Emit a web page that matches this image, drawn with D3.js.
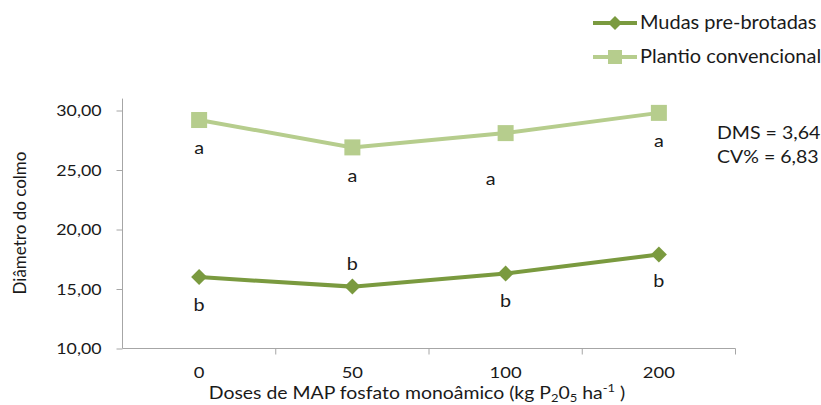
<!DOCTYPE html>
<html><head><meta charset="utf-8">
<script src="https://cdn.jsdelivr.net/npm/d3@7"></script>
<style>body{margin:0;background:#fff;} text{font-family:Lato,"Open Sans",sans-serif;fill:#1a1a1a;}</style>
</head><body><svg id="c" width="821" height="405"></svg>
<script>
const categories = ["0","50","100","200"];
const mudas = [16.0, 15.2, 16.3, 17.9];
const plantio = [29.2, 26.9, 28.1, 29.8];
const mudasLetters = ["b","b","b","b"];
const plantioLetters = ["a","a","a","a"];
const yTicks = [10,15,20,25,30];
const seriesNames = ["Mudas pre-brotadas","Plantio convencional"];
const stats = ["DMS = 3,64","CV% = 6,83"];

const svg = d3.select("#c");
const cDark = "#7a9a3f", cLight = "#b6cd8d", axisC = "#a6a6a6";
const x = d3.scaleBand().domain(categories).range([122.5, 735.5]);
const y = d3.scaleLinear().domain([10, 31]).range([348.5, 98.6]);
const cx = d => x(d) + x.bandwidth()/2;
function stretch(sel, k){
  sel.each(function(){ const t=d3.select(this); const px=+t.attr("x")||0;
    t.attr("transform",`translate(${px*(1-k)},0) scale(${k},1)`); });
}

// y axis
const ya = svg.append("g").attr("transform","translate(122.5,0)")
  .call(d3.axisLeft(y).tickValues(yTicks).tickSize(6).tickSizeOuter(0).tickPadding(15)
     .tickFormat(d => d3.format(".2f")(d).replace(".",",")));
ya.select(".domain").attr("stroke",axisC).attr("d","M0,"+y(10)+"V"+y(31));
ya.selectAll(".tick line").attr("stroke",axisC).attr("x1",-6).attr("x2",0);
ya.selectAll(".tick text").style("font-size","16px").attr("fill","#1a1a1a").call(stretch,1.11);

// x axis
const xa = svg.append("g").attr("transform","translate(0,348.5)")
  .call(d3.axisBottom(x).tickSize(0).tickPadding(18));
xa.select(".domain").attr("stroke",axisC).attr("d","M122.5,0H735.5");
xa.selectAll(".tick text").style("font-size","16px").attr("fill","#1a1a1a").call(stretch,1.15);
const bounds = categories.map(c => x(c)).concat([x(categories[categories.length-1]) + x.bandwidth()]);
xa.selectAll(".sep").data(bounds.slice(1)).join("line").attr("class","sep")
  .attr("x1",d=>d).attr("x2",d=>d).attr("y1",0).attr("y2",6).attr("stroke",axisC);

// titles
const xt = svg.append("text").attr("x",417).attr("y",399).attr("text-anchor","middle").style("font-size","18px");
xt.append("tspan").text("Doses de MAP fosfato monoâmico (kg P");
xt.append("tspan").attr("dy",3).style("font-size","12px").text("2");
xt.append("tspan").attr("dy",-3).text("0");
xt.append("tspan").attr("dy",3).style("font-size","12px").text("5");
xt.append("tspan").attr("dy",-3).text(" ha");
xt.append("tspan").attr("dy",-7).style("font-size","12px").text("-1");
xt.append("tspan").attr("dy",7).text(" )");
xt.call(stretch,1.08);

svg.append("text").attr("transform","translate(26,223) rotate(-90)").attr("text-anchor","middle")
  .style("font-size","17px").text("Diâmetro do colmo");

// lines
const line = d3.line().x((d,i)=>cx(categories[i])).y(d=>y(d));
svg.append("path").datum(plantio).attr("d",line).attr("fill","none").attr("stroke",cLight).attr("stroke-width",4);
svg.append("path").datum(mudas).attr("d",line).attr("fill","none").attr("stroke",cDark).attr("stroke-width",4);

svg.selectAll(".sq").data(plantio).join("rect").attr("class","sq")
  .attr("x",(d,i)=>cx(categories[i])-8).attr("y",d=>y(d)-8).attr("width",16).attr("height",16).attr("fill",cLight);
const diamond = (px,py,r) => `M${px},${py-r}L${px+r},${py}L${px},${py+r}L${px-r},${py}Z`;
svg.selectAll(".dm").data(mudas).join("path").attr("class","dm")
  .attr("d",(d,i)=>diamond(cx(categories[i]),y(d),8)).attr("fill",cDark);

// letters (offsets in px relative to marker)
const plantioOff = [[0,34],[0,35],[-15,52],[0,34]];
const mudasOff = [[0,34],[0,-17],[0,33],[0,33]];
svg.selectAll(".la").data(plantioLetters).join("text").attr("class","la").attr("text-anchor","middle")
  .attr("x",(d,i)=>cx(categories[i])+plantioOff[i][0]).attr("y",(d,i)=>y(plantio[i])+plantioOff[i][1])
  .style("font-size","18px").text(d=>d).call(stretch,1.1);
svg.selectAll(".lb").data(mudasLetters).join("text").attr("class","lb").attr("text-anchor","middle")
  .attr("x",(d,i)=>cx(categories[i])+mudasOff[i][0]).attr("y",(d,i)=>y(mudas[i])+mudasOff[i][1])
  .style("font-size","18px").text(d=>d).call(stretch,1.1);

// stats
svg.selectAll(".st").data(stats).join("text").attr("class","st").attr("x",717).attr("y",(d,i)=>139+i*24)
  .style("font-size","17px").text(d=>d).call(stretch,1.15);

// legend
const leg = [{n:seriesNames[0],c:cDark,t:"d",y:23},{n:seriesNames[1],c:cLight,t:"s",y:57}];
const lg = svg.selectAll(".lg").data(leg).join("g").attr("class","lg");
lg.append("line").attr("x1",593).attr("x2",637).attr("y1",d=>d.y).attr("y2",d=>d.y).attr("stroke",d=>d.c).attr("stroke-width",4);
lg.filter(d=>d.t==="d").append("path").attr("d",d=>diamond(615,d.y,7)).attr("fill",d=>d.c);
lg.filter(d=>d.t==="s").append("rect").attr("x",608).attr("y",d=>d.y-7).attr("width",14).attr("height",14).attr("fill",d=>d.c);
lg.append("text").attr("x",640).attr("y",d=>d.y+6).style("font-size","18.5px").text(d=>d.n).call(stretch,1.08);
</script></body></html>
